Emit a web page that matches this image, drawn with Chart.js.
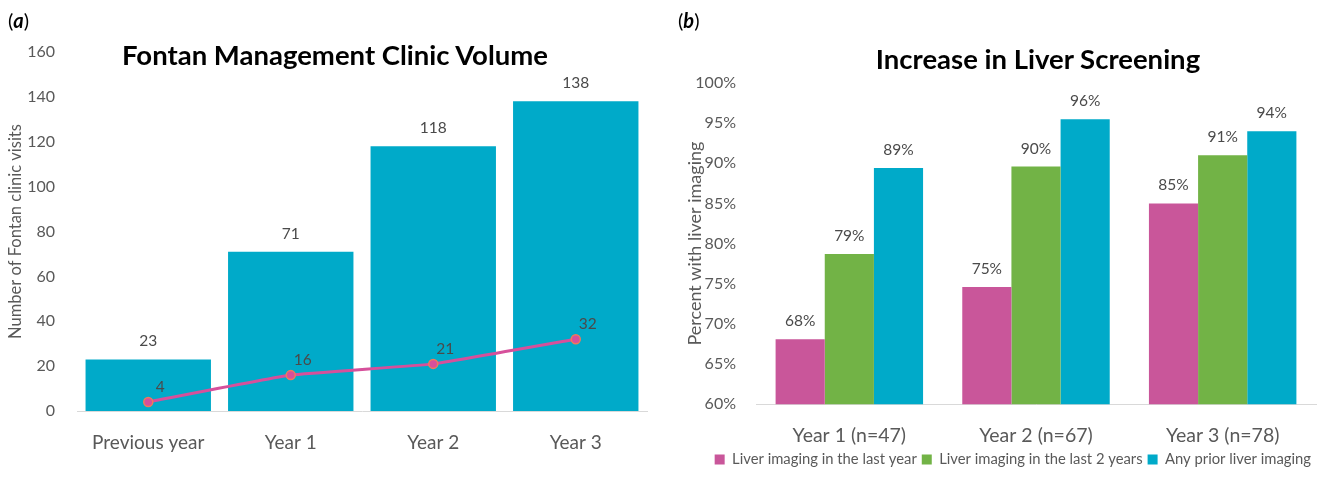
<!DOCTYPE html>
<html>
<head>
<meta charset="utf-8">
<script src="https://cdn.jsdelivr.net/npm/chart.js@4"></script>
<style>
  body { margin: 0; background: #fff; font-family: Lato, sans-serif; }
  #wrap { position: relative; width: 1321px; height: 477px; overflow: hidden; }
  .box { position: absolute; top: 0; height: 477px; }
  .panel { position: absolute; top: 8px; font-size: 20px; color: #000; }
  .title { position: absolute; font-weight: bold; font-size: 27.5px; color: #000; transform: translateX(-50%); white-space: nowrap; }
</style>
</head>
<body>
<div id="wrap">
  <div class="box" style="left:0;width:662px"><canvas id="clinicChart" width="662" height="477"></canvas></div>
  <div class="box" style="left:660px;width:661px"><canvas id="liverChart" width="661" height="477"></canvas></div>
  <div class="panel" style="left:8px">(<b><i>a</i></b>)</div>
  <div class="panel" style="left:678px">(<b><i>b</i></b>)</div>
  <div class="title" style="left:335px;top:38px">Fontan Management Clinic Volume</div>
  <div class="title" style="left:1038px;top:42px">Increase in Liver Screening</div>
</div>
<script>
// Panel a data
const clinicLabels = ['Previous year', 'Year 1', 'Year 2', 'Year 3'];
const clinicVisits = [23, 71, 118, 138];
const clinicPatients = [4, 16, 21, 32];

// Panel b data
const liverLabels = ['Year 1 (n=47)', 'Year 2 (n=67)', 'Year 3 (n=78)'];
const lastYear = [68.1, 74.6, 85];
const last2Years = [78.7, 89.6, 91];
const anyPrior = [89.4, 95.5, 94];

const TEAL = '#00aac9';
const PINK = '#c9569a';
const GREEN = '#72b346';
const GREY = '#595959';

Chart.defaults.font.family = 'Lato, sans-serif';
Chart.defaults.animation = false;

// simple value label plugin (no datalabels plugin available)
const valueLabels = {
    id: 'valueLabels',
    afterDatasetsDraw(chart) {
        const ctx = chart.ctx;
        ctx.save();
        ctx.font = '15.5px Lato, sans-serif';
        ctx.fillStyle = '#4a4a4a';
        ctx.textAlign = 'center';
        ctx.textBaseline = 'middle';
        chart.data.datasets.forEach((ds, i) => {
            const meta = chart.getDatasetMeta(i);
            meta.data.forEach((el, j) => {
                const v = ds.data[j];
                const txt = ds.labelFmt ? ds.labelFmt(v) : String(v);
                if (meta.type === 'line') {
                    ctx.fillText(txt, el.x + 12, el.y - 15);
                } else {
                    ctx.fillText(txt, el.x, el.y - 18);
                }
            });
        });
        ctx.restore();
    }
};

new Chart(document.getElementById('clinicChart'), {
    type: 'bar',
    data: {
        labels: clinicLabels,
        datasets: [
            {
                type: 'line',
                data: clinicPatients,
                borderColor: '#d6509b',
                borderWidth: 3,
                pointBackgroundColor: '#d6509b',
                pointBorderColor: '#ef7a5a',
                pointBorderWidth: 1.5,
                pointRadius: 4.5,
                tension: 0.1,
                order: 0
            },
            {
                data: clinicVisits,
                backgroundColor: TEAL,
                barPercentage: 0.88,
                categoryPercentage: 1.0,
                order: 1
            }
        ]
    },
    options: {
        responsive: false,
        layout: { padding: { top: 52, right: 15, left: 0, bottom: 0 } },
        plugins: { legend: { display: false }, tooltip: { enabled: false } },
        scales: {
            x: {
                grid: { display: false },
                border: { color: '#d9d9d9', width: 1 },
                ticks: { color: GREY, font: { size: 19 }, padding: 12 },
                afterFit: s => { s.height = 66; }
            },
            y: {
                min: 0, max: 160,
                grid: { display: false },
                border: { display: false },
                ticks: { stepSize: 20, color: GREY, font: { size: 16 }, padding: 14 },
                title: { display: true, text: 'Number of Fontan clinic visits', color: GREY, font: { size: 16.5 }, padding: { top: 6, bottom: 4 } },
                afterFit: s => { s.width = 77; }
            }
        }
    },
    plugins: [valueLabels]
});

const pct = v => Math.round(v) + '%';

new Chart(document.getElementById('liverChart'), {
    type: 'bar',
    data: {
        labels: liverLabels,
        datasets: [
            { label: 'Liver imaging in the last year', data: lastYear, backgroundColor: PINK, labelFmt: pct },
            { label: 'Liver imaging in the last 2 years', data: last2Years, backgroundColor: GREEN, labelFmt: pct },
            { label: 'Any prior liver imaging', data: anyPrior, backgroundColor: TEAL, labelFmt: pct }
        ]
    },
    options: {
        responsive: false,
        layout: { padding: { top: 83, right: 5, left: 0, bottom: 0 } },
        datasets: { bar: { categoryPercentage: 0.79, barPercentage: 1.0 } },
        plugins: {
            tooltip: { enabled: false },
            legend: {
                position: 'bottom',
                align: 'end',
                labels: { color: GREY, font: { size: 14.8 }, boxWidth: 10, boxHeight: 10, padding: 5 }
            }
        },
        scales: {
            x: {
                grid: { display: false },
                border: { color: '#d9d9d9', width: 1 },
                ticks: { color: GREY, font: { size: 19.5 }, padding: 12 },
                afterFit: s => { s.height = 43; }
            },
            y: {
                min: 60, max: 100,
                grid: { display: false },
                border: { display: false },
                ticks: { stepSize: 5, color: GREY, font: { size: 16 }, padding: 12, callback: v => v + '%' },
                title: { display: true, text: 'Percent with liver imaging', color: GREY, font: { size: 18 }, padding: { top: 24, bottom: 0 } },
                afterFit: s => { s.width = 96; }
            }
        }
    },
    plugins: [valueLabels]
});
</script>
</body>
</html>
